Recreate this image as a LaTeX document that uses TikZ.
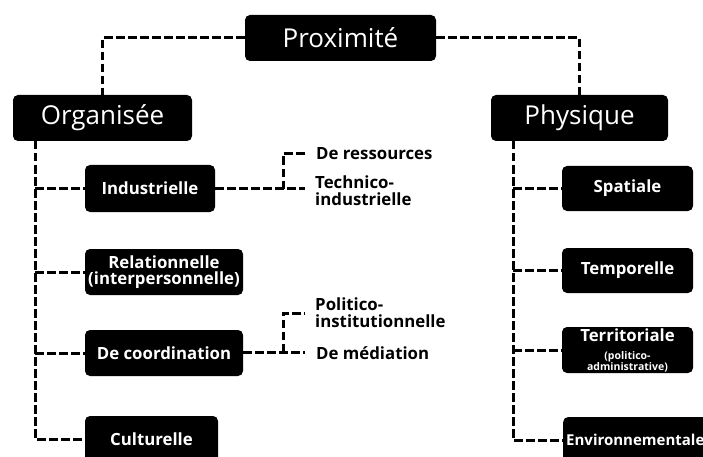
\documentclass[tikz,border=0pt]{standalone}
\usepackage{fontspec}
\setmainfont{Open Sans}
\usetikzlibrary{calc}
\newcommand{\tinyf}{\fontsize{10.5}{10}\selectfont}
\begin{document}
\begin{tikzpicture}[x=1pt,y=-1pt,
  topbox/.style={fill=black,rounded corners=5pt,text=white,inner sep=0pt,font=\fontsize{26}{28}\selectfont,minimum height=46pt},
  subbox/.style={fill=black,rounded corners=5pt,text=white,inner sep=0pt,font=\bfseries\fontsize{16.8}{17}\selectfont,minimum height=46pt,align=center},
  lbl/.style={anchor=west,inner sep=0pt,font=\bfseries\fontsize{16.8}{17}\selectfont,align=left},
  dl/.style={line width=3pt,dash pattern=on 8.5pt off 3.5pt}]
\useasboundingbox (0,0) rectangle (703,457);
% top level
\node[topbox,minimum width=191pt] (prox) at (340.5,38) {Proximité};
\node[topbox,minimum width=179pt] (org) at (102.5,118) {Organisée};
\node[topbox,minimum width=177pt] (phys) at (579.5,118) {Physique};
% left children
\node[subbox,minimum width=130pt,minimum height=47pt] (ind) at (150,188.5) {Industrielle};
\node[subbox,minimum width=158pt] (rel) at (164,272) {Relationnelle\\[-1pt](interpersonnelle)};
\node[subbox,minimum width=158pt] (coord) at (164,353) {De coordination};
\node[subbox,minimum width=133pt] (cult) at (151.5,439) {Culturelle};
% right children
\node[subbox,minimum width=131pt,minimum height=45pt] (spat) at (627.5,188.5) {Spatiale};
\node[subbox,minimum width=131pt,minimum height=45pt] (temp) at (627.5,270.5) {Temporelle};
\node[subbox,minimum width=131pt] (terr) at (627.5,350) {Territoriale\\[1pt]\tinyf (politico-\\[-6pt]\tinyf administrative)};
\node[subbox,anchor=west,text width=150pt,align=left,inner xsep=3pt,font=\bfseries\fontsize{15}{17}\selectfont] (env) at (563,440) {Environnementale};
% labels
\node[lbl] (res) at (316,154) {De ressources};
\node[lbl] (tech) at (315,191) {Technico-\\industrielle};
\node[lbl] (pol) at (315,313) {Politico-\\institutionnelle};
\node[lbl] (med) at (316,353) {De médiation};
% connectors top
\draw[dl] (prox.west) -| (org.north);
\draw[dl] (prox.east) -| (phys.north);
% left stem
\coordinate (ls) at (35,141);
\draw[dl] (ls) |- (cult.west);
\draw[dl] (ls |- ind.west) -- (ind.west);
\draw[dl] (ls |- rel.west) -- (rel.west);
\draw[dl] (ls |- coord.west) -- (coord.west);
% right stem
\coordinate (rs) at (513,141);
\draw[dl] (rs) |- (env.west);
\draw[dl] (rs |- spat.west) -- (spat.west);
\draw[dl] (rs |- temp.west) -- (temp.west);
\draw[dl] (rs |- terr.west) -- (terr.west);
% sub branches
\coordinate (j1) at (283,189);
\draw[dl] (ind.east) -- ([xshift=-10pt]tech.west |- ind.east);
\draw[dl] (j1) |- ([xshift=-11pt]res.west);
\coordinate (j2) at (283,352);
\draw[dl] (coord.east |- j2) -- ([xshift=-11pt]med.west |- j2);
\draw[dl] (j2) |- ([xshift=-10pt]pol.west);
\end{tikzpicture}
\end{document}
